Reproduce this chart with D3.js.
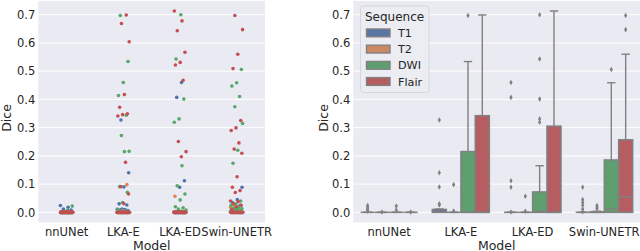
<!DOCTYPE html>
<html><head><meta charset="utf-8">
<script src="https://cdn.jsdelivr.net/npm/d3@7"></script>
<style>
body{margin:0;background:#fff}
svg{display:block}
text{font-family:"DejaVu Sans",sans-serif;fill:#262626}
</style>
</head><body>
<svg id="c" width="640" height="251"></svg>
<script>
// ---------- data ----------
const models = ["nnUNet", "LKA-E", "LKA-ED", "Swin-UNETR"];
const sequences = ["T1", "T2", "DWI", "Flair"];
const yTickValues = [0.0, 0.1, 0.2, 0.3, 0.4, 0.5, 0.6, 0.7];
const casesPerGroup = 28; // cases not listed below have Dice = 0

// non-zero Dice values (read from the strip plot / box plot)
const nnUNet_T1 = [0.024, 0.018, 0.012, 0.008, 0.004];
const nnUNet_T2 = [0.001];
const nnUNet_DWI = [0.022, 0.008];
const nnUNet_Flair = [0.001];

const lkaE_T1 = [0.327, 0.14, 0.09, 0.03, 0.026, 0.012, 0.011, 0.01, 0.008, 0.006, 0.004, 0.003, 0.002, 0.002, 0.001];
const lkaE_T2 = [0.098, 0.005];
const lkaE_DWI = [0.697, 0.534, 0.46, 0.414, 0.344, 0.272, 0.216, 0.215, 0.091, 0.071, 0.035, 0.01, 0.005];
const lkaE_Flair = [0.699, 0.669, 0.604, 0.417, 0.372, 0.349, 0.346, 0.341, 0.177, 0.091, 0.065, 0.031];

const lkaED_T1 = [0.46, 0.407, 0.112, 0.089, 0.001];
const lkaED_T2 = [0.057, 0.004];
const lkaED_DWI = [0.7, 0.543, 0.401, 0.331, 0.319, 0.165, 0.094, 0.065, 0.044, 0.02, 0.016, 0.012, 0.008, 0.004, 0.002];
const lkaED_Flair = [0.713, 0.678, 0.643, 0.567, 0.531, 0.522, 0.468, 0.251, 0.215, 0.197];

const swin_T1 = [0.089, 0.045, 0.035, 0.025, 0.012, 0.002];
const swin_T2 = [0.024, 0.018, 0.013, 0.004, 0.003, 0.002, 0.002, 0.002, 0.001];
const swin_DWI = [0.506, 0.459, 0.447, 0.41, 0.374, 0.315, 0.22, 0.174, 0.04, 0.03, 0.025, 0.02, 0.016, 0.013, 0.011, 0.008, 0.006, 0.004, 0.003, 0.002];
const swin_Flair = [0.697, 0.647, 0.56, 0.509, 0.325, 0.299, 0.29, 0.246, 0.224, 0.209, 0.126, 0.089, 0.077, 0.07, 0.04, 0.038, 0.03, 0.025, 0.02, 0.01];

const rawGroups = {
  "nnUNet": [nnUNet_T1, nnUNet_T2, nnUNet_DWI, nnUNet_Flair],
  "LKA-E": [lkaE_T1, lkaE_T2, lkaE_DWI, lkaE_Flair],
  "LKA-ED": [lkaED_T1, lkaED_T2, lkaED_DWI, lkaED_Flair],
  "Swin-UNETR": [swin_T1, swin_T2, swin_DWI, swin_Flair]
};

// ---------- styles ----------
const pointColors = ["#4C72B0", "#DD8452", "#55A868", "#C44E52"];
const boxColors = ["#5875A4", "#CC8963", "#5F9E6E", "#B55D60"];
const gray = "#808080";
const bgColor = "#EAEAF2";
const tickFont = 11.5, labelFont = 12.5;

// full groups (pad zeros)
const groups = {};
models.forEach(m => {
  groups[m] = rawGroups[m].map(arr => {
    const full = arr.slice();
    while (full.length < casesPerGroup) full.push(0);
    return full;
  });
});

const svg = d3.select("#c");
const allVals = models.flatMap(m => groups[m].flat());
const vmax = d3.max(allVals), vmin = d3.min(allVals);
const pad = (vmax - vmin) * 0.05;
const plotTop = 0.95, plotBottom = 222.4;

function panel(x0, x1) {
  const x = d3.scaleBand().domain(models).range([x0, x1]).padding(0);
  const y = d3.scaleLinear().domain([vmin - pad, vmax + pad]).range([plotBottom, plotTop]);
  const g = svg.append("g");
  g.append("rect").attr("x", x0).attr("y", plotTop).attr("width", x1 - x0).attr("height", plotBottom - plotTop).attr("fill", bgColor);
  g.append("g").selectAll("line").data(yTickValues).join("line")
    .attr("x1", x0).attr("x2", x1).attr("y1", d => y(d)).attr("y2", d => y(d))
    .attr("stroke", "#fff").attr("stroke-width", 1);
  const ya = d3.axisLeft(y).tickValues(yTickValues).tickFormat(d3.format(".1f")).tickSize(0).tickPadding(3);
  const yg = g.append("g").attr("transform", `translate(${x0},0)`).call(ya);
  yg.select(".domain").remove();
  yg.selectAll("text").attr("font-size", tickFont).attr("fill", "#262626").attr("font-family", "DejaVu Sans");
  const xa = d3.axisBottom(x).tickSize(0).tickPadding(5);
  const xg = g.append("g").attr("transform", `translate(0,${plotBottom})`).call(xa);
  xg.select(".domain").remove();
  xg.selectAll("text").attr("font-size", tickFont).attr("fill", "#262626").attr("font-family", "DejaVu Sans")
    .attr("dy", "0.71em").attr("y", 5.5);
  g.append("text").attr("x", (x0 + x1) / 2).attr("y", 249.5).attr("text-anchor", "middle")
    .attr("font-size", labelFont).text("Model");
  return {x, y, g};
}

// ---------- left: strip plot ----------
{
  const {x, y, g} = panel(38.3, 265);
  g.append("text").attr("transform", "translate(10.5,118) rotate(-90)").attr("text-anchor", "middle")
    .attr("font-size", labelFont).text("Dice");
  const pts = [];
  models.forEach((m, mi) => {
    let k = 0;
    sequences.forEach((s, si) => {
      groups[m][si].forEach(v => {
        const j = ((k * 0.6180339887 + mi * 0.31 + si * 0.17) % 1) * 0.22 - 0.11; // deterministic spread
        pts.push({m, si, v, j});
        k++;
      });
    });
  });
  const bw = x.bandwidth();
  g.append("g").selectAll("circle").data(pts).join("circle")
    .attr("cx", d => x(d.m) + bw / 2 + d.j * bw)
    .attr("cy", d => y(d.v))
    .attr("r", 1.8)
    .attr("fill", d => pointColors[d.si]);
}

// ---------- right: box plot ----------
{
  const {x, y, g} = panel(353.3, 640);
  const clip = svg.append("defs").append("clipPath").attr("id", "cl");
  clip.append("rect").attr("x", 317).attr("y", 0).attr("width", 40).attr("height", 251);
  svg.append("g").attr("clip-path", "url(#cl)")
    .append("text")
    .attr("transform", "translate(327.5,118) rotate(-90)").attr("text-anchor", "middle")
    .attr("font-size", labelFont).text("Dice");
  const bw = x.bandwidth();
  const boxW = bw * 0.2 * 0.98;
  const offsets = [-0.3, -0.1, 0.1, 0.3];
  const stats = [];
  models.forEach(m => {
    sequences.forEach((s, si) => {
      const a = groups[m][si].slice().sort(d3.ascending);
      const q1 = d3.quantileSorted(a, 0.25), med = d3.quantileSorted(a, 0.5), q3 = d3.quantileSorted(a, 0.75);
      const iqr = q3 - q1;
      const hiF = q3 + 1.5 * iqr, loF = q1 - 1.5 * iqr;
      const hi = d3.max(a.filter(v => v <= hiF));
      const lo = d3.min(a.filter(v => v >= loF));
      const fliers = a.filter(v => v > hiF || v < loF);
      stats.push({m, si, q1, med, q3, hi, lo, fliers, cx: x(m) + bw / 2 + offsets[si] * bw});
    });
  });
  const bg2 = g.append("g");
  stats.forEach(d => {
    bg2.append("line").attr("x1", d.cx).attr("x2", d.cx).attr("y1", y(d.q3)).attr("y2", y(d.hi))
      .attr("stroke", gray).attr("stroke-width", 1.4);
    bg2.append("line").attr("x1", d.cx).attr("x2", d.cx).attr("y1", y(d.q1)).attr("y2", y(d.lo))
      .attr("stroke", gray).attr("stroke-width", 1.4);
    bg2.append("line").attr("x1", d.cx - boxW * 0.3).attr("x2", d.cx + boxW * 0.3).attr("y1", y(d.hi)).attr("y2", y(d.hi))
      .attr("stroke", gray).attr("stroke-width", 1.4);
    bg2.append("line").attr("x1", d.cx - boxW * 0.3).attr("x2", d.cx + boxW * 0.3).attr("y1", y(d.lo)).attr("y2", y(d.lo))
      .attr("stroke", gray).attr("stroke-width", 1.4);
    bg2.append("rect").attr("x", d.cx - boxW / 2).attr("y", y(d.q3)).attr("width", boxW)
      .attr("height", Math.max(0, y(d.q1) - y(d.q3)))
      .attr("fill", boxColors[d.si]).attr("stroke", gray).attr("stroke-width", 1.5);
    bg2.append("line").attr("x1", d.cx - boxW / 2).attr("x2", d.cx + boxW / 2).attr("y1", y(d.med)).attr("y2", y(d.med))
      .attr("stroke", gray).attr("stroke-width", 1.5);
    bg2.append("g").selectAll("path").data(d.fliers).join("path")
      .attr("transform", v => `translate(${d.cx},${y(v)})`)
      .attr("d", d3.symbol(d3.symbolDiamond, 9))
      .attr("fill", gray);
  });
  const lg = g.append("g");
  lg.append("rect").attr("x", 360.5).attr("y", 6).attr("width", 68.5).attr("height", 86.5).attr("rx", 3)
    .attr("fill", "#ECECF3").attr("stroke", "#d6d6dc").attr("stroke-width", 1);
  lg.append("text").attr("x", 365).attr("y", 21).attr("font-size", 12).text("Sequence");
  sequences.forEach((s, i) => {
    const yy = 29 + i * 16.2;
    lg.append("rect").attr("x", 366.5).attr("y", yy).attr("width", 23.5).attr("height", 7.8)
      .attr("fill", boxColors[i]).attr("stroke", gray).attr("stroke-width", 1.4);
    lg.append("text").attr("x", 398).attr("y", yy + 8).attr("font-size", 11.2).text(s);
  });
}
</script>
</body></html>
